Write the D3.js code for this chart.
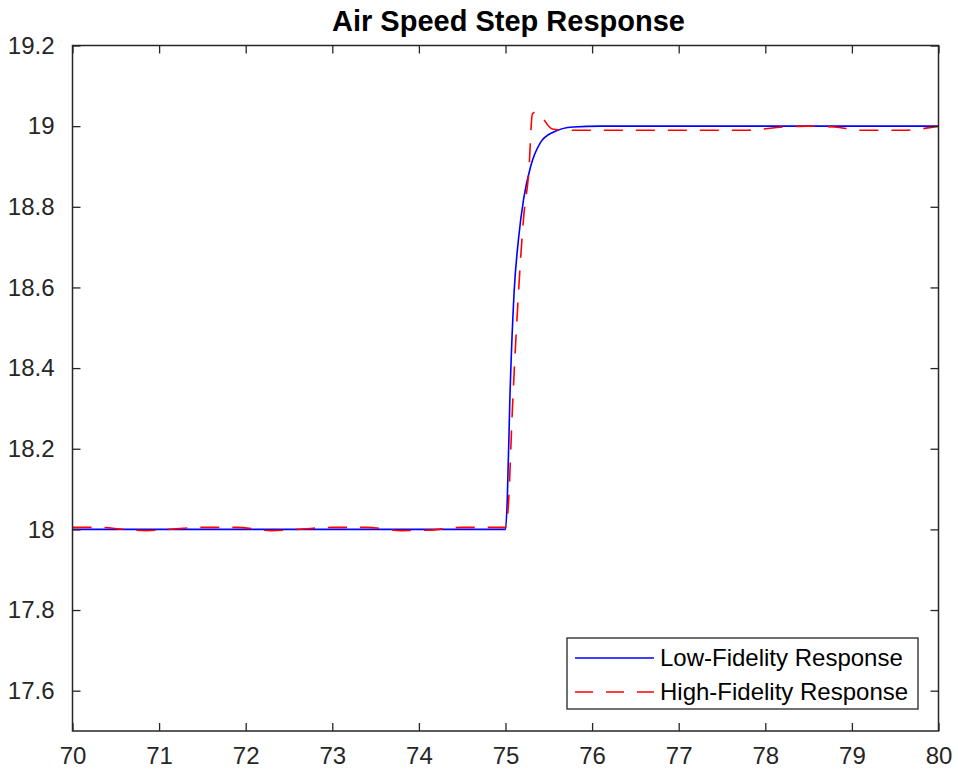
<!DOCTYPE html>
<html>
<head>
  <meta charset="utf-8">
  <title>Air Speed Step Response</title>
  <style>
    body { margin: 0; background: #fff; }
    svg { display: block; font-family: "Liberation Sans", Arial, sans-serif; }
  </style>
</head>
<body>
  <svg width="958" height="774"></svg>
  <script src="https://cdn.jsdelivr.net/npm/d3@7"></script>
  <script>
    // low fidelity (blue, solid)
    var lowT = [70, 74, 75.0, 75.02, 75.05, 75.1, 75.15, 75.21, 75.29, 75.4, 75.55, 75.78, 76.1, 80];
    var lowV = [18, 18, 18.0, 18.07, 18.32, 18.59, 18.72, 18.82, 18.90, 18.958, 18.985, 18.998, 19.0, 19.0];

    // high fidelity (red, dashed)
    var highT = [70, 70.3, 70.6, 70.85, 71.1, 71.5, 71.9, 72.3, 72.6, 73.0, 73.4, 73.8, 74.1, 74.5, 75.0,
      75.03, 75.08, 75.14, 75.21, 75.27, 75.31, 75.35, 75.39, 75.54, 75.7, 77.4, 77.8, 78.2, 78.5, 78.8, 79.1, 79.6, 80];
    var highV = [18.005, 18.005, 18.0, 17.997, 18.0, 18.005, 18.005, 17.997, 18.0, 18.005, 18.005, 17.997, 17.998, 18.005, 18.005,
      18.05, 18.3, 18.55, 18.775, 18.89, 19.03, 19.035, 19.03, 18.993, 18.99, 18.99, 18.99, 18.998, 19.0, 18.998, 18.99, 18.99, 19.0];

    var xTicks = [70, 71, 72, 73, 74, 75, 76, 77, 78, 79, 80];
    var yTicks = [17.6, 17.8, 18, 18.2, 18.4, 18.6, 18.8, 19, 19.2];
    var seriesNames = ["Low-Fidelity Response", "High-Fidelity Response"];

    var svg = d3.select("svg"),
      plotLeft = 72.5, plotRight = 938.5, plotTop = 45.5, plotBottom = 731,
      axisColor = "#262626";

    var x = d3.scaleLinear().domain([70, 80]).range([plotLeft, plotRight]);
    var y = d3.scaleLinear().domain([17.5, 19.2]).range([plotBottom, plotTop]);

    svg.append("text")
      .attr("x", (plotLeft + plotRight) / 2 + 3)
      .attr("y", 31)
      .attr("text-anchor", "middle")
      .attr("font-weight", "bold")
      .attr("font-size", 29)
      .attr("fill", "#000")
      .text("Air Speed Step Response");

    var plot = svg.append("g");

    var line = d3.line()
      .x(function (d) { return x(d[0]); })
      .y(function (d) { return y(d[1]); })
      .curve(d3.curveMonotoneX);

    plot.append("path")
      .datum(d3.zip(lowT, lowV))
      .attr("fill", "none")
      .attr("stroke", "#0000ff")
      .attr("stroke-width", 1.6)
      .attr("d", line);

    plot.append("path")
      .datum(d3.zip(highT, highV))
      .attr("fill", "none")
      .attr("stroke", "#ff0000")
      .attr("stroke-width", 1.6)
      .attr("stroke-dasharray", "19,13")
      .attr("d", line);

    // axes: ticks pointing inward on all four sides
    var bottomAxis = svg.append("g")
      .attr("transform", "translate(0," + plotBottom + ")")
      .call(d3.axisBottom(x).tickValues(xTicks).tickSizeInner(-8).tickSizeOuter(0).tickPadding(16).tickFormat(d3.format("d")));
    var topAxis = svg.append("g")
      .attr("transform", "translate(0," + plotTop + ")")
      .call(d3.axisTop(x).tickValues(xTicks).tickSizeInner(-8).tickSizeOuter(0).tickFormat(""));
    var leftAxis = svg.append("g")
      .attr("transform", "translate(" + plotLeft + ",0)")
      .call(d3.axisLeft(y).tickValues(yTicks).tickSizeInner(-8).tickSizeOuter(0).tickPadding(18).tickFormat(d3.format("~g")));
    var rightAxis = svg.append("g")
      .attr("transform", "translate(" + plotRight + ",0)")
      .call(d3.axisRight(y).tickValues(yTicks).tickSizeInner(-8).tickSizeOuter(0).tickFormat(""));

    [bottomAxis, topAxis, leftAxis, rightAxis].forEach(function (a) {
      a.selectAll(".domain").remove();
      a.selectAll(".tick line").attr("stroke", axisColor).attr("stroke-width", 1.3);
      a.selectAll(".tick text").attr("fill", axisColor).attr("font-size", 24)
        .attr("font-family", "'Liberation Sans', Arial, sans-serif");
    });
    bottomAxis.selectAll(".tick text").attr("dy", "0.71em");

    svg.append("rect")
      .attr("x", plotLeft).attr("y", plotTop)
      .attr("width", plotRight - plotLeft).attr("height", plotBottom - plotTop)
      .attr("fill", "none").attr("stroke", axisColor).attr("stroke-width", 1.5);

    // legend
    var legend = svg.append("g").attr("transform", "translate(567,638)");
    legend.append("rect")
      .attr("width", 351).attr("height", 71)
      .attr("fill", "#fff").attr("stroke", axisColor).attr("stroke-width", 1.3);

    var entry = legend.selectAll("g.entry")
      .data(seriesNames)
      .enter().append("g")
      .attr("class", "entry")
      .attr("transform", function (d, i) { return "translate(0," + (20 + i * 34) + ")"; });

    entry.append("line")
      .attr("x1", 8).attr("x2", 87)
      .attr("stroke", function (d, i) { return i === 0 ? "#0000ff" : "#ff0000"; })
      .attr("stroke-width", 1.6)
      .attr("stroke-dasharray", function (d, i) { return i === 0 ? null : "18,13"; });

    entry.append("text")
      .attr("x", 93)
      .attr("dy", "0.35em")
      .attr("font-size", 24)
      .attr("fill", "#000")
      .text(function (d) { return d; });
  </script>
</body>
</html>
